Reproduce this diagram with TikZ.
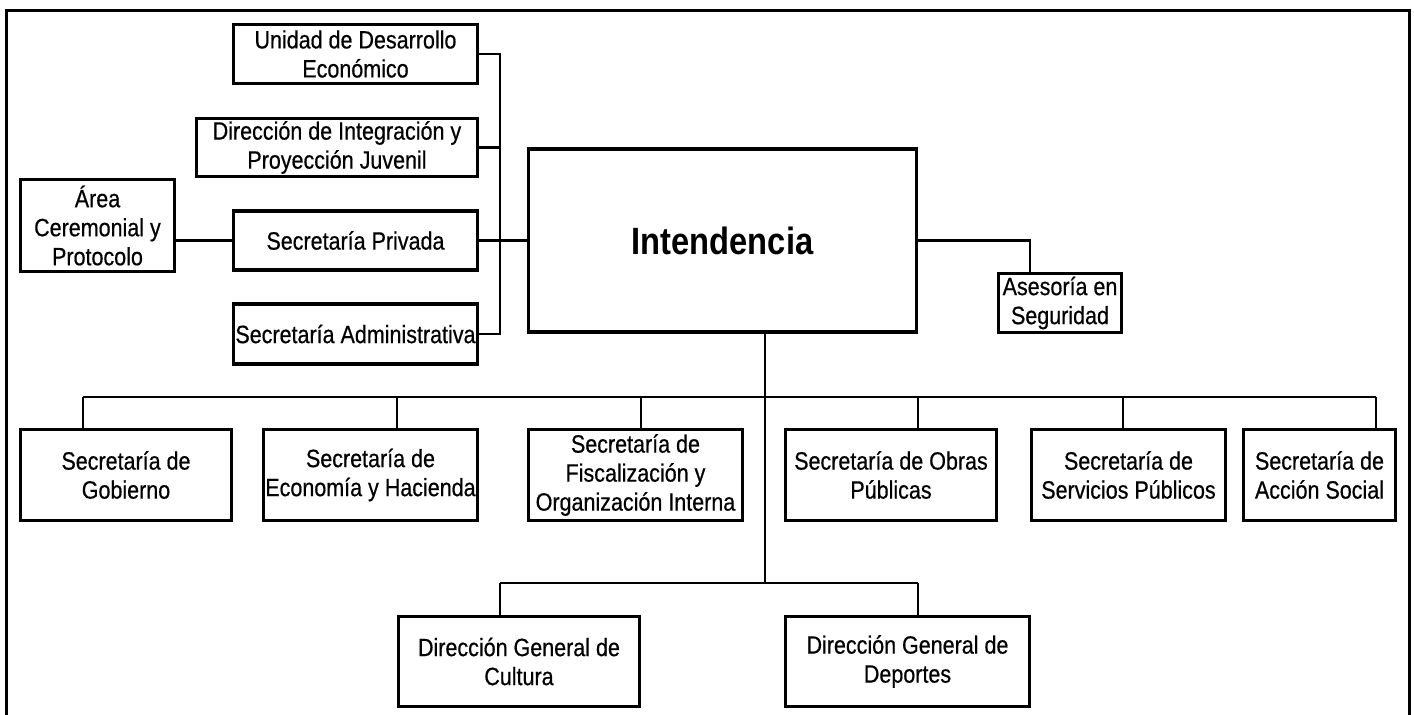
\documentclass[tikz,border=0pt]{standalone}
\usepackage{fontspec}
\setmainfont{Liberation Sans}[FakeStretch=0.86,FakeBold=0.5]
\newfontfamily\boldface{Liberation Sans Bold}[FakeStretch=0.86]
\begin{document}
\begin{tikzpicture}[x=1pt,y=-1pt,
  box/.style={draw=black,line width=3.6pt,align=center,inner sep=0pt,
    font=\fontsize{25}{29}\selectfont},
  conn/.style={draw=black,line width=2.8pt},
  frame/.style={draw=black,line width=3pt}]
\useasboundingbox[fill=white] (0,0) rectangle (1414,715);
% outer frame
\draw[frame] (6,718) -- (6,10) -- (1409,10) -- (1409,718);
% upper-left group
\node[box,minimum width=244,minimum height=59] (unidad) at (355.5,54) {Unidad de Desarrollo\\Económico};
\node[box,minimum width=281,minimum height=58] (integ) at (337,147.5) {Dirección de Integración y\\Proyección Juvenil};
\node[box,minimum width=154,minimum height=92] (area) at (97.5,225.5) {Área\\Ceremonial y\\Protocolo};
\node[box,minimum width=244,minimum height=59] (privada) at (355.5,240.5) {Secretaría Privada};
\node[box,minimum width=244,minimum height=60] (admin) at (355.5,334) {Secretaría Administrativa};
% central
\node[box,minimum width=388,minimum height=183,font=\boldface\fontsize{38}{44}\selectfont] (intend) at (722.5,240.5) {Intendencia};
\node[box,minimum width=123,minimum height=59] (asesoria) at (1060,303) {Asesoría en\\Seguridad};
% secretarias row
\node[box,minimum width=211,minimum height=91] (gob) at (126,475) {Secretaría de\\Gobierno};
\node[box,minimum width=214,minimum height=91] (eco) at (370.5,475) {Secretaría de\\Economía y Hacienda};
\node[box,minimum width=214,minimum height=91] (fisc) at (635.5,475) {Secretaría de\\Fiscalización y\\Organización Interna};
\node[box,minimum width=211,minimum height=91] (obras) at (891,475) {Secretaría de Obras\\Públicas};
\node[box,minimum width=194,minimum height=91] (serv) at (1128.5,475) {Secretaría de\\Servicios Públicos};
\node[box,minimum width=152,minimum height=91] (accion) at (1319.5,475) {Secretaría de\\Acción Social};
% direcciones generales
\node[box,minimum width=241,minimum height=90] (cultura) at (519,661.5) {Dirección General de\\Cultura};
\node[box,minimum width=244,minimum height=90] (deportes) at (907.5,661.5) {Dirección General de\\Deportes};
% coordinates
\coordinate (busx) at (500,0);
\coordinate (trunk) at (765,397);
\coordinate (trunklow) at (765,583);
\coordinate (b1) at (83,397);
\coordinate (b2) at (397,397);
\coordinate (b3) at (641,397);
\coordinate (b4) at (918,397);
\coordinate (b5) at (1123,397);
\coordinate (b6) at (1376,397);
\coordinate (c1) at (500,583);
\coordinate (c2) at (918,583);
\coordinate (asc) at (1030,0);
% left bus
\draw[conn] (unidad.east) -- (unidad.east -| busx) -- (admin.east -| busx) -- (admin.east);
\draw[conn] (integ.east) -- (integ.east -| busx);
\draw[conn] (privada.east) -- (intend.west);
\draw[conn] (privada.west -| area.east) -- (privada.west);
% asesoria
\draw[conn] (intend.east) -- (intend.east -| asc) -- (asesoria.north -| asc);
% trunk
\draw[conn] (intend.south -| trunk) -- (trunklow);
\draw[conn] (b1) -- (b6);
\draw[conn] (b1) -- (b1 |- gob.north);
\draw[conn] (b2) -- (b2 |- eco.north);
\draw[conn] (b3) -- (b3 |- fisc.north);
\draw[conn] (b4) -- (b4 |- obras.north);
\draw[conn] (b5) -- (b5 |- serv.north);
\draw[conn] (b6) -- (b6 |- accion.north);
\draw[conn] (c1) -- (c2);
\draw[conn] (c1) -- (c1 |- cultura.north);
\draw[conn] (c2) -- (c2 |- deportes.north);
\end{tikzpicture}
\end{document}
